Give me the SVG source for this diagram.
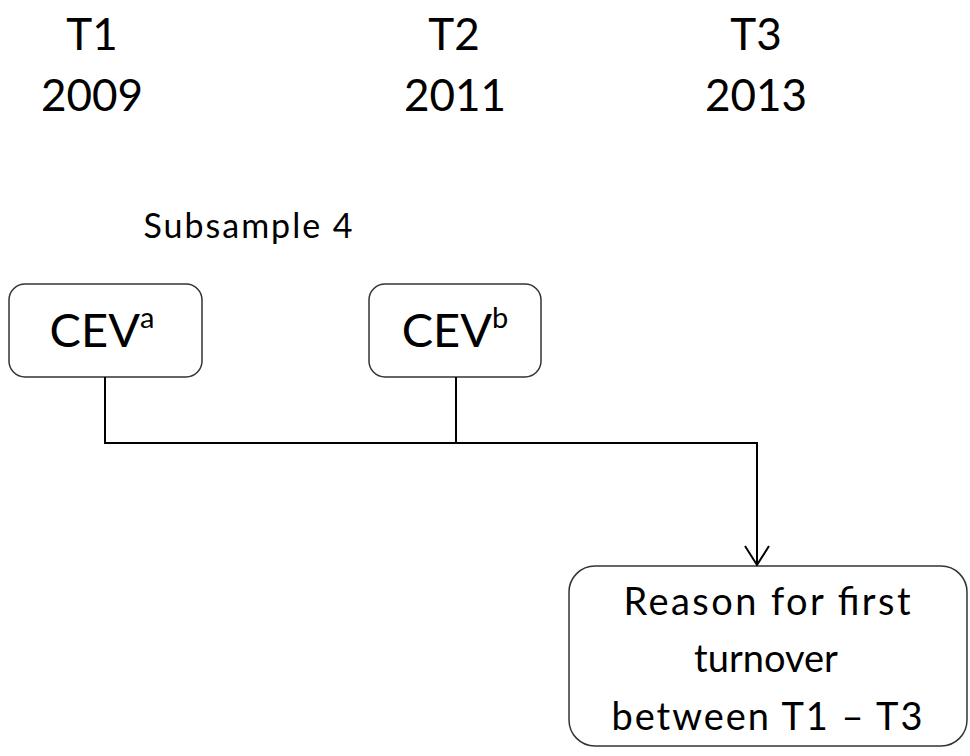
<svg xmlns="http://www.w3.org/2000/svg" width="970" height="756" viewBox="0 0 970 756">
<style>
.t{font-family:Lato,"Open Sans","Liberation Sans",sans-serif;fill:#000;text-anchor:middle}
.hdr{font-size:44px}
.cev{font-size:47px}
.sup{font-size:29px}
.rs{font-size:38px}
.box{fill:#fff;stroke:#333;stroke-width:1.5}
.con{fill:none;stroke:#000;stroke-width:2}
</style>
<rect width="970" height="756" fill="#fff"/>
<g id="timeline">
<text class="t hdr" x="92" y="50">T1</text>
<text class="t hdr" x="92" y="111">2009</text>
<text class="t hdr" x="454" y="50">T2</text>
<text class="t hdr" x="455" y="111">2011</text>
<text class="t hdr" x="756" y="50">T3</text>
<text class="t hdr" x="756" y="111">2013</text>
<text class="t" x="248" y="238" style="font-size:34px" textLength="209" lengthAdjust="spacing">Subsample 4</text>
</g>
<g id="cev-a">
<rect class="box" x="9" y="284" width="193" height="93" rx="16"/>
<text class="t" x="102" y="347"><tspan class="cev">CEV</tspan><tspan class="sup" dy="-19">a</tspan></text>
</g>
<g id="cev-b">
<rect class="box" x="369" y="284" width="172" height="93" rx="16"/>
<text class="t" x="455" y="347"><tspan class="cev">CEV</tspan><tspan class="sup" dy="-19">b</tspan></text>
</g>
<g id="reason">
<rect class="box" x="569" y="566" width="398" height="180" rx="26"/>
<text class="t rs" x="767" y="615" textLength="287" lengthAdjust="spacing">Reason for first</text>
<text class="t rs" x="766" y="672">turnover</text>
<text class="t rs" x="767" y="730" textLength="311" lengthAdjust="spacing">between T1 – T3</text>
</g>
<g id="connectors">
<polyline class="con" points="105,377 105,443 757,443 757,565"/>
<line class="con" x1="456" y1="377" x2="456" y2="443"/>
<polyline class="con" points="745,546 757,565 769,546"/>
</g>
</svg>
